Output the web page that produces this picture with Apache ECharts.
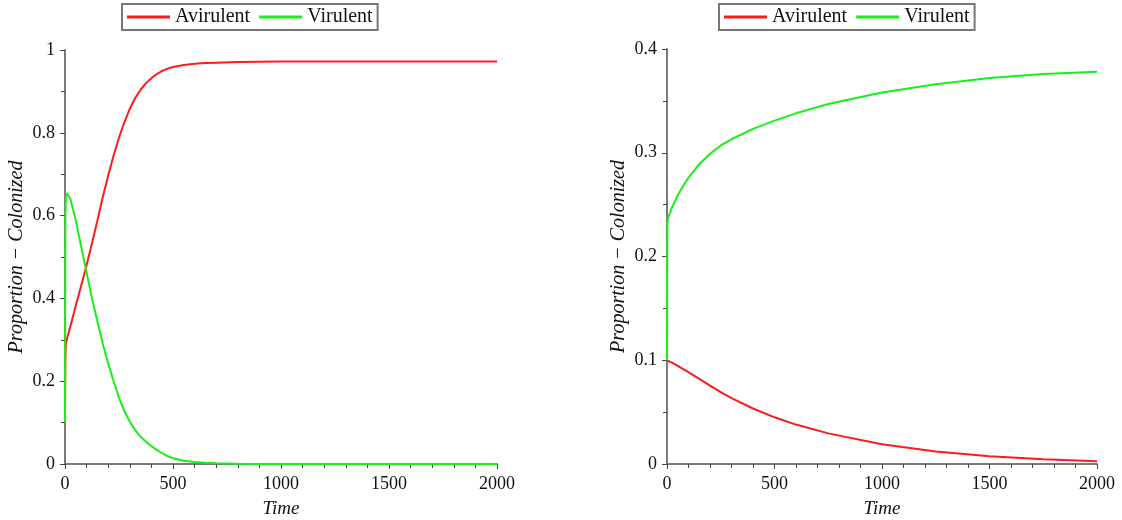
<!DOCTYPE html>
<html>
<head>
<meta charset="utf-8">
<script src="https://cdn.jsdelivr.net/npm/echarts@6/dist/echarts.min.js"></script>
<style>
html,body{margin:0;padding:0;background:#fff;}
#chart{width:1122px;height:520px;}
</style>
</head>
<body>
<div id="chart"></div>
<script>
// ---- data ----
const seriesNames = ['Avirulent', 'Virulent'];
const xTicks = [0, 500, 1000, 1500, 2000];
const yTicksLeft = [0, 0.2, 0.4, 0.6, 0.8, 1];
const yTicksRight = [0, 0.1, 0.2, 0.3, 0.4];
const xTitle = 'Time';
const yTitle = 'Proportion \u2212 Colonized';

// left panel
const timeLeft = [0, 1, 2, 4, 8, 12, 25, 50, 75, 100, 125, 150, 175, 200, 225, 250, 275, 300, 325, 350, 375, 400, 425, 450, 475, 500, 550, 600, 650, 700, 800, 900, 1000, 1500, 2000];
const avirulentLeft = [0.1, 0.2, 0.26, 0.29, 0.30, 0.308, 0.333, 0.382, 0.431, 0.48, 0.533, 0.588, 0.645, 0.697, 0.745, 0.788, 0.826, 0.858, 0.884, 0.904, 0.92, 0.932, 0.942, 0.9495, 0.955, 0.959, 0.964, 0.967, 0.9685, 0.9695, 0.9708, 0.9715, 0.972, 0.972, 0.972];
const virulentLeft = [0.1, 0.45, 0.6, 0.645, 0.654, 0.652, 0.64, 0.588, 0.525, 0.462, 0.40, 0.345, 0.29, 0.243, 0.20, 0.16, 0.128, 0.102, 0.082, 0.066, 0.054, 0.043, 0.034, 0.026, 0.019, 0.014, 0.008, 0.005, 0.003, 0.0017, 0.0006, 0.0002, 0.0001, 0, 0];

// right panel
const timeRight = [0, 1, 2, 5, 10, 25, 50, 75, 100, 150, 200, 250, 300, 400, 500, 600, 750, 1000, 1250, 1500, 1750, 2000];
const avirulentRight = [0.1, 0.1, 0.1, 0.0995, 0.099, 0.0975, 0.0945, 0.0915, 0.0885, 0.082, 0.0755, 0.0693, 0.0635, 0.0535, 0.045, 0.038, 0.0295, 0.019, 0.012, 0.0074, 0.0045, 0.0026];
const virulentRight = [0.1, 0.2, 0.232, 0.237, 0.24, 0.248, 0.259, 0.268, 0.276, 0.289, 0.299, 0.307, 0.313, 0.323, 0.331, 0.338, 0.347, 0.358, 0.366, 0.372, 0.376, 0.378];

// ---- chart ----
const FONT = 'Liberation Serif';
const RED = '#ff1a1a';
const GREEN = '#1aee1a';
const pairs = (xs, ys) => xs.map((x, i) => [x, ys[i]]);

function xAxisCfg(gridIndex) {
  return {
    type: 'value', gridIndex,
    min: xTicks[0], max: xTicks[xTicks.length - 1], interval: xTicks[1] - xTicks[0],
    name: xTitle, nameLocation: 'middle', nameGap: 35,
    nameTextStyle: { fontFamily: FONT, fontSize: 19, fontStyle: 'italic', color: '#111' },
    axisLine: { show: true, onZero: false, lineStyle: { color: '#7a7a7a', width: 2 } },
    axisTick: { show: true, length: 5, lineStyle: { color: '#444', width: 1 } },
    minorTick: { show: true, splitNumber: 5, length: 4, lineStyle: { color: '#444', width: 1 } },
    splitLine: { show: false },
    axisLabel: { fontFamily: FONT, fontSize: 18, color: '#111', margin: 11, formatter: v => String(v) }
  };
}
function yAxisCfg(gridIndex, ticks) {
  return {
    type: 'value', gridIndex,
    min: ticks[0], max: ticks[ticks.length - 1], interval: ticks[1] - ticks[0],
    name: yTitle, nameLocation: 'middle', nameGap: 38,
    nameTextStyle: { fontFamily: FONT, fontSize: 20, fontStyle: 'italic', color: '#111' },
    axisLine: { show: true, onZero: false, lineStyle: { color: '#7a7a7a', width: 2 } },
    axisTick: { show: true, length: 5, lineStyle: { color: '#444', width: 1 } },
    minorTick: { show: true, splitNumber: 2, length: 4, lineStyle: { color: '#444', width: 1 } },
    splitLine: { show: false },
    axisLabel: { fontFamily: FONT, fontSize: 18, color: '#111', margin: 10, formatter: v => String(v) }
  };
}
function legendCfg(left) {
  return {
    left, top: 4,
    data: seriesNames,
    icon: 'rect', itemWidth: 43, itemHeight: 3, itemGap: 9,
    borderColor: '#777', borderWidth: 2, padding: [3, 5, 3, 5],
    textStyle: { fontFamily: FONT, fontSize: 20, color: '#111' }
  };
}
function lineSeries(name, color, xi, data) {
  return {
    name, type: 'line', xAxisIndex: xi, yAxisIndex: xi, data,
    showSymbol: false, symbol: 'none', smooth: false,
    lineStyle: { color, width: 2 }, itemStyle: { color },
    animation: false
  };
}

const chart = echarts.init(document.getElementById('chart'), null, { renderer: 'canvas' });
chart.setOption({
  backgroundColor: '#fff',
  animation: false,
  legend: [legendCfg(122), legendCfg(719)],
  grid: [
    { left: 65, top: 50, width: 432, height: 414, containLabel: false, outerBoundsMode: 'none' },
    { left: 667, top: 49, width: 430, height: 415, containLabel: false, outerBoundsMode: 'none' }
  ],
  xAxis: [xAxisCfg(0), xAxisCfg(1)],
  yAxis: [yAxisCfg(0, yTicksLeft), yAxisCfg(1, yTicksRight)],
  series: [
    lineSeries(seriesNames[0], RED, 0, pairs(timeLeft, avirulentLeft)),
    lineSeries(seriesNames[1], GREEN, 0, pairs(timeLeft, virulentLeft)),
    lineSeries(seriesNames[0], RED, 1, pairs(timeRight, avirulentRight)),
    lineSeries(seriesNames[1], GREEN, 1, pairs(timeRight, virulentRight))
  ]
});
</script>
</body>
</html>
